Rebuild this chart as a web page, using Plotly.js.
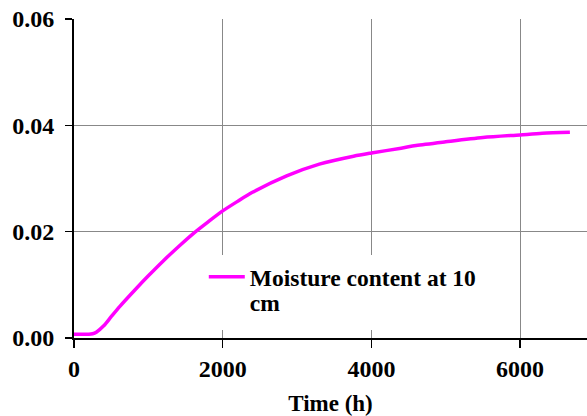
<!DOCTYPE html>
<html>
<head>
<meta charset="utf-8">
<script src="https://cdn.plot.ly/plotly-3.0.1.min.js"></script>
<style>
  html, body { margin: 0; padding: 0; background: #fff; overflow: hidden; }
  #chart { width: 587px; height: 416px; }
</style>
</head>
<body>
<div id="chart"></div>
<script>
// Elapsed time (hours) and simulated moisture content at 10 cm depth
const timeHours = [0, 100, 200, 250, 300, 400, 500, 620, 850, 1000, 1200, 1430, 1600,
  1800, 2000, 2200, 2400, 2860, 3300, 3760, 4000, 4400, 4600, 5000, 5500, 6000, 6300, 6670];
const moisture10cm = [0.0007, 0.0007, 0.0007, 0.0008, 0.0011, 0.0023, 0.0040, 0.0060,
  0.0095, 0.0117, 0.0145, 0.0175, 0.0196, 0.0218, 0.0239, 0.0257, 0.0274, 0.0305,
  0.0327, 0.0342, 0.0348, 0.0357, 0.0362, 0.0369, 0.0377, 0.0382, 0.0385, 0.0387];
const seriesName = 'Moisture content at 10<br>cm';
const xTicks = [0, 2000, 4000, 6000];
const yTicks = [0, 0.02, 0.04, 0.06];

const serif = 'Liberation Serif';

const trace = {
  x: timeHours,
  y: moisture10cm,
  type: 'scatter',
  mode: 'lines',
  name: seriesName,
  line: { color: '#ff00ff', width: 3.5, shape: 'spline', smoothing: 0.8 }
};

const layout = {
  width: 587,
  height: 416,
  margin: { l: 74, r: 0, t: 19, b: 78 },
  paper_bgcolor: '#ffffff',
  plot_bgcolor: '#ffffff',
  font: { family: serif, size: 24, color: '#000', weight: 'bold' },
  showlegend: true,
  legend: {
    x: 0.253, y: 0.26, xanchor: 'left', yanchor: 'top',
    bgcolor: '#ffffff', borderwidth: 0, valign: 'top', itemwidth: 36,
    font: { family: serif, size: 23.5, color: '#000', weight: 'bold' }
  },
  xaxis: {
    range: [0, 6900],
    tickvals: xTicks,
    ticktext: xTicks.map(String),
    ticks: 'outside', ticklen: 8, tickwidth: 1.5, tickcolor: '#000',
    tickfont: { family: serif, size: 24, weight: 'bold' },
    showline: true, linecolor: '#000', linewidth: 2,
    showgrid: true, gridcolor: '#888888', gridwidth: 1,
    zeroline: false,
    title: { text: 'Time (h)', standoff: 15, font: { family: serif, size: 23, weight: 'bold' } }
  },
  yaxis: {
    range: [0, 0.06],
    tickvals: yTicks,
    tickformat: '.2f',
    ticks: 'outside', ticklen: 7, tickwidth: 1.5, tickcolor: '#000',
    tickfont: { family: serif, size: 24, weight: 'bold' },
    ticklabelstandoff: 6,
    showline: true, linecolor: '#000', linewidth: 2,
    showgrid: true, gridcolor: '#888888', gridwidth: 1,
    zeroline: false
  }
};

Plotly.newPlot('chart', [trace], layout, { displayModeBar: false, staticPlot: true })
  .then(function (gd) {
    // tighten the line spacing of the two-line legend label
    gd.querySelectorAll('.legendtext tspan.line').forEach(function (t, i) {
      if (i > 0) t.setAttribute('dy', '1.05em');
    });
  });
</script>
</body>
</html>
